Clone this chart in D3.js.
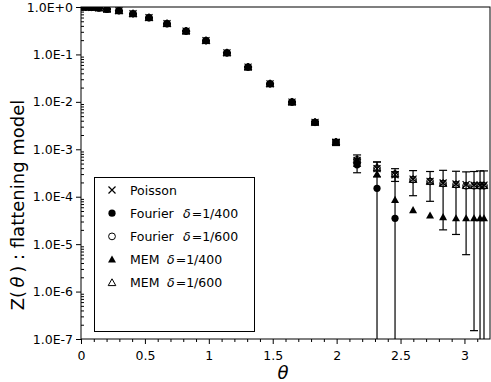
<!DOCTYPE html>
<html><head><meta charset="utf-8">
<script src="https://cdn.jsdelivr.net/npm/d3@7"></script>
<style>body{margin:0;background:#fff} svg{display:block}</style>
</head><body>
<script>
// ---- data ----
const theta = [0.01, 0.04, 0.085, 0.14, 0.203, 0.297, 0.407, 0.532, 0.673, 0.822, 0.978, 1.142, 1.307, 1.479, 1.651, 1.831, 1.995, 2.160, 2.316, 2.457, 2.598, 2.731, 2.833, 2.934, 3.013, 3.075, 3.122, 3.153];
const poisson    = [1.0, 0.997, 0.985, 0.955, 0.90, 0.835, 0.72, 0.595, 0.445, 0.31, 0.195, 0.108, 0.054, 0.024, 0.0099, 0.0037, 0.00142, 5.8e-4, 3.9e-4, 2.9e-4, 2.35e-4, 2.1e-4, 1.95e-4, 1.85e-4, 1.8e-4, 1.75e-4, 1.75e-4, 1.75e-4];
const fourier400 = [1.0, 0.997, 0.985, 0.955, 0.90, 0.835, 0.72, 0.595, 0.445, 0.31, 0.195, 0.108, 0.054, 0.024, 0.0099, 0.0037, 0.00140, 4.7e-4, 1.5e-4, 3.5e-5, null, null, null, null, null, null, null, null];
const fourier400Err = [0.005, 0.005, 0.005, 0.005, 0.005, 0.005, 0.004, 0.004, 0.003, 0.003, 0.002, 0.0015, 0.001, 5e-4, 3e-4, 2e-4, 2e-4, 1.5e-4, 3.9e-4, 3.0e-4, null, null, null, null, null, null, null, null];
const fourier600 = [1.0, 0.997, 0.985, 0.955, 0.90, 0.835, 0.72, 0.595, 0.445, 0.31, 0.195, 0.108, 0.054, 0.024, 0.0099, 0.0037, 0.00142, 6.0e-4, 4.0e-4, 3.0e-4, 2.3e-4, 2.1e-4, 1.9e-4, 1.8e-4, 1.7e-4, 1.7e-4, 1.7e-4, 1.7e-4];
const fourier600Err = [0.004, 0.004, 0.004, 0.004, 0.004, 0.004, 0.003, 0.003, 0.002, 0.002, 0.0015, 0.001, 8e-4, 4e-4, 2e-4, 1.5e-4, 1.5e-4, 1.6e-4, 1.4e-4, 0.9e-4, 1.25e-4, 1.3e-4, 1.7e-4, 1.64e-4, 1.64e-4, 1.6985e-4, 1.8e-4, 1.8e-4];
const mem400 = [1.0, 0.997, 0.985, 0.955, 0.90, 0.835, 0.72, 0.595, 0.445, 0.31, 0.195, 0.108, 0.054, 0.024, 0.0099, 0.0037, 0.00142, 5.8e-4, 3.0e-4, 8.5e-5, 5.2e-5, 4.0e-5, 3.7e-5, 3.5e-5, 3.5e-5, 3.5e-5, 3.5e-5, 3.5e-5];
const mem600 = [1.0, 0.997, 0.985, 0.955, 0.90, 0.835, 0.72, 0.595, 0.445, 0.31, 0.195, 0.108, 0.054, 0.024, 0.0099, 0.0037, 0.00142, 6.0e-4, 4.0e-4, 3.0e-4, 2.3e-4, 2.1e-4, 1.9e-4, 1.8e-4, 1.7e-4, 1.7e-4, 1.7e-4, 1.7e-4];
const yTickExps = [0, -1, -2, -3, -4, -5, -6, -7];
const xTicks = [0, 0.5, 1, 1.5, 2, 2.5, 3];
const legendLabels = ["Poisson", "Fourier", "Fourier", "MEM", "MEM"];
const legendDelta = [null, "1/400", "1/600", "1/400", "1/600"];
const xTitle = "\u03B8";

// ---- layout ----
const W = 491, H = 382;
const L = 81, R = 490, T = 7, B = 339;
const FONT = "'DejaVu Sans', Verdana, sans-serif";
const svg = d3.select("body").append("svg").attr("width", W).attr("height", H)
  .style("font-family", FONT);
const x = d3.scaleLinear().domain([0, 3.2]).range([L, R]);
const y = d3.scaleLog().domain([1e-7, 1]).range([B, T]);

svg.append("defs").append("clipPath").attr("id", "clip")
  .append("rect").attr("x", L).attr("y", T).attr("width", R - L).attr("height", B - T);

// frame
svg.append("rect").attr("x", L).attr("y", T).attr("width", R - L).attr("height", B - T)
  .attr("fill", "none").attr("stroke", "#000").attr("stroke-width", 1);

// x axis
const xAxis = d3.axisBottom(x).tickValues(xTicks).tickSize(5).tickFormat(d3.format("~g"));
const gx = svg.append("g").attr("transform", `translate(0,${B})`).call(xAxis);
gx.select(".domain").remove();
gx.selectAll("text").attr("font-size", 12.5).attr("font-family", FONT).attr("dy", "1.0em").attr("fill", "#000");
const xMinor = d3.range(0, 32).map(i => i / 10).filter(v => Math.abs(v * 2 - Math.round(v * 2)) > 1e-6);
svg.append("g").attr("transform", `translate(0,${B})`).call(d3.axisBottom(x).tickValues(xMinor).tickSize(3).tickFormat(""))
  .select(".domain").remove();

// y axis
const yMajor = yTickExps.map(e => Math.pow(10, e));
const fmt = d => { const e = Math.round(Math.log10(d)); return "1.0E" + (e >= 0 ? "+" + e : e); };
const gy = svg.append("g").attr("transform", `translate(${L},0)`).call(d3.axisLeft(y).tickValues(yMajor).tickSize(5).tickFormat(fmt));
gy.select(".domain").remove();
gy.selectAll("text").attr("font-size", 12.5).attr("font-family", FONT).attr("fill", "#000");
const yMinor = [];
yTickExps.slice(0, -1).forEach(e => { for (let k = 2; k <= 9; k++) yMinor.push(k * Math.pow(10, e - 1)); });
svg.append("g").attr("transform", `translate(${L},0)`).call(d3.axisRight(y).tickValues(yMinor).tickSize(3).tickFormat(""))
  .select(".domain").remove();

// titles
const yt = svg.append("text").attr("transform", `translate(24,205) rotate(-90)`)
  .attr("text-anchor", "middle").attr("font-size", 18);
yt.append("tspan").text("Z(\u2009");
yt.append("tspan").attr("font-style", "italic").text("\u03B8");
yt.append("tspan").text("\u2009) : flattening model");
svg.append("text").attr("x", x(1.58)).attr("y", 379).attr("text-anchor", "middle")
  .attr("font-size", 18).attr("font-style", "italic").text(xTitle);

// ---- marks ----
const plot = svg.append("g").attr("clip-path", "url(#clip)");
function errBars(vals, errs) {
  const g = plot.append("g").attr("stroke", "#000").attr("stroke-width", 1.2);
  theta.forEach((t, i) => {
    const v = vals[i], e = errs[i];
    if (v == null || e == null) return;
    const hi = v + e, lo = v - e;
    const yHi = y(hi), yLo = lo > 0 ? y(lo) : B + 20;
    const cx = x(t);
    g.append("line").attr("x1", cx).attr("x2", cx).attr("y1", yHi).attr("y2", yLo);
    g.append("line").attr("x1", cx - 4).attr("x2", cx + 4).attr("y1", yHi).attr("y2", yHi);
    if (lo > 0) g.append("line").attr("x1", cx - 4).attr("x2", cx + 4).attr("y1", yLo).attr("y2", yLo);
  });
}
errBars(fourier600, fourier600Err);
errBars(fourier400, fourier400Err);

const sym = {
  cross: (g) => g.append("path").attr("d", "M-3.5,-3.5L3.5,3.5M-3.5,3.5L3.5,-3.5").attr("stroke", "#000").attr("stroke-width", 1.2).attr("fill", "none"),
  fcirc: (g) => g.append("circle").attr("r", 3.6).attr("fill", "#000"),
  ocirc: (g) => g.append("circle").attr("r", 3.4).attr("fill", "none").attr("stroke", "#000").attr("stroke-width", 1),
  ftri: (g) => g.append("path").attr("d", "M0,-4.2L4,3L-4,3Z").attr("fill", "#000"),
  otri: (g) => g.append("path").attr("d", "M0,-4L3.8,2.8L-3.8,2.8Z").attr("fill", "none").attr("stroke", "#000").attr("stroke-width", 1)
};
function series(vals, kind) {
  const g = plot.append("g");
  theta.forEach((t, i) => {
    const v = vals[i];
    if (v == null || v <= 0) return;
    sym[kind](g.append("g").attr("transform", `translate(${x(t)},${y(v)})`));
  });
}
series(mem600, "otri");
series(mem400, "ftri");
series(fourier600, "ocirc");
series(fourier400, "fcirc");
series(poisson, "cross");

// ---- legend ----
const lg = svg.append("g");
lg.append("rect").attr("x", 94.5).attr("y", 177.5).attr("width", 160).attr("height", 154)
  .attr("fill", "#fff").attr("stroke", "#000").attr("stroke-width", 1);
const kinds = ["cross", "fcirc", "ocirc", "ftri", "otri"];
kinds.forEach((k, i) => {
  const yy = 190 + i * 23.2;
  sym[k](lg.append("g").attr("transform", `translate(112,${yy})`));
  const t = lg.append("text").attr("x", 130).attr("y", yy + 4.5).attr("font-size", 12.5);
  t.append("tspan").text(legendLabels[i]);
  if (legendDelta[i]) {
    t.append("tspan").attr("x", i < 3 ? 183 : 167).attr("font-style", "italic").text("\u03B4");
    t.append("tspan").attr("dx", 1).text("=" + legendDelta[i]);
  }
});
</script>
</body></html>
